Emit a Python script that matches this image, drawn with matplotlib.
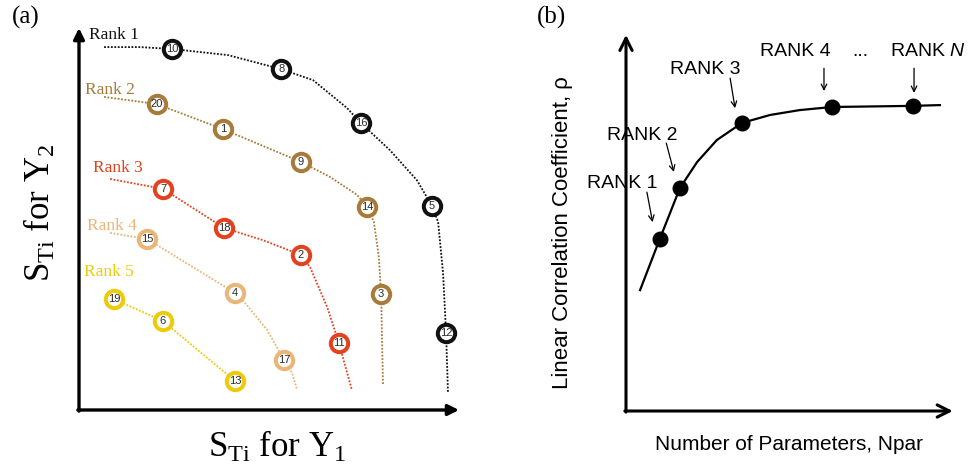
import matplotlib
matplotlib.use("Agg")
import matplotlib.pyplot as plt

plt.rcParams["mathtext.fontset"] = "custom"
plt.rcParams["mathtext.rm"] = "Liberation Serif"
plt.rcParams["mathtext.it"] = "Liberation Sans:italic"

# ---- panel (a): ranked sensitivity indices, S_Ti for Y1 / Y2 (0-100 scale)
rank_names = ["Rank 1", "Rank 2", "Rank 3", "Rank 4", "Rank 5"]

rank1_ids = [10, 8, 16, 5, 12]
rank1_x = [24.5, 53.2, 74.2, 92.9, 96.6]
rank1_y = [95.0, 89.7, 75.5, 53.7, 20.3]
rank1_cx = [6.6, 16.1, 24.5, 39.2, 53.2, 61.6, 70.5, 74.2, 81.8, 88.9, 92.9,
            94.5, 95.8, 96.6, 97.1]
rank1_cy = [95.5, 95.5, 95.0, 93.4, 89.7, 86.8, 79.5, 75.5, 68.4, 60.5, 53.7,
            49.5, 36.1, 20.3, 4.5]

rank2_ids = [20, 1, 9, 14, 3]
rank2_x = [20.5, 37.9, 58.4, 75.8, 79.5]
rank2_y = [80.5, 73.9, 65.3, 53.4, 30.5]
rank2_cx = [6.6, 20.5, 37.9, 58.4, 66.1, 73.2, 75.8, 77.6, 78.9, 79.5, 80.0]
rank2_cy = [82.4, 80.5, 73.9, 65.3, 61.3, 56.6, 53.4, 49.5, 40.3, 30.5, 6.6]

rank3_ids = [7, 18, 2, 11]
rank3_x = [22.1, 38.2, 58.4, 68.4]
rank3_y = [58.2, 47.9, 40.8, 17.6]
rank3_cx = [8.2, 22.1, 38.2, 48.4, 58.4, 60.8, 65.3, 68.4, 71.8]
rank3_cy = [60.8, 58.2, 47.9, 44.7, 40.8, 37.6, 27.1, 17.6, 5.3]

rank4_ids = [15, 4, 17]
rank4_x = [17.9, 41.1, 53.9]
rank4_y = [45.0, 30.8, 13.2]
rank4_cx = [8.2, 17.9, 41.1, 44.2, 49.5, 53.9, 56.1, 57.4]
rank4_cy = [46.6, 45.0, 30.8, 27.6, 21.1, 13.2, 9.7, 5.3]

rank5_ids = [19, 6, 13]
rank5_x = [9.2, 22.1, 41.1]
rank5_y = [29.2, 23.4, 7.6]
rank5_cx = [9.2, 22.1, 41.1]
rank5_cy = [29.2, 23.4, 7.6]

# ---- panel (b): correlation coefficient vs number of parameters
curve_x = [3.7, 8.9, 14.2, 18.7, 23.9, 30.5, 37.9, 45.8, 54.2, 75.5, 82.6]
curve_y = [31.8, 45.3, 58.7, 65.5, 71.3, 75.8, 77.9, 79.2, 80.0, 80.3, 80.5]
level_x = [8.9, 14.2, 30.5, 54.2, 75.5]
level_y = [45.3, 58.7, 75.8, 80.0, 80.3]
level_labels = ["RANK 1", "RANK 2", "RANK 3", "RANK 4", r"RANK $\mathit{N}$"]

# layout / style
colors = ["#111111", "#A87B3A", "#E2421E", "#EBB577", "#EECB0A"]
name_pos = [(2.6, 98.7), (1.6, 84.2), (3.7, 63.7), (2.1, 48.4), (1.3, 36.3)]
text_pos = [(-1.0, 60.0), (4.2, 72.6), (20.8, 90.0), (44.5, 94.5), (79.5, 94.5)]
arrow_from = [(5.5, 57.6), (10.6, 70.5), (27.4, 87.6), (52.1, 90.2), (75.8, 90.2)]
arrow_to = [(7.0, 49.7), (12.6, 62.9), (28.7, 79.7), (52.1, 84.2), (75.8, 83.7)]

serif = "Liberation Serif"
sans = "Liberation Sans"

fig = plt.figure(figsize=(9.68, 4.68), dpi=100)

# ---------------- panel (a)
ax = fig.add_axes([79 / 968, 58 / 468, 380 / 968, 380 / 468])
ax.set_xlim(0, 100)
ax.set_ylim(0, 100)
ax.axis("off")

arrow_kw = dict(arrowstyle="-|>", lw=2.4, color="black", mutation_scale=16,
                shrinkA=0, shrinkB=0)
ax.annotate("", xy=(0, 100.5), xytext=(0, -0.3), arrowprops=arrow_kw,
            annotation_clip=False)
ax.annotate("", xy=(100, 0), xytext=(-0.3, 0), arrowprops=arrow_kw,
            annotation_clip=False)

ranks = [
    (rank1_ids, rank1_x, rank1_y, rank1_cx, rank1_cy),
    (rank2_ids, rank2_x, rank2_y, rank2_cx, rank2_cy),
    (rank3_ids, rank3_x, rank3_y, rank3_cx, rank3_cy),
    (rank4_ids, rank4_x, rank4_y, rank4_cx, rank4_cy),
    (rank5_ids, rank5_x, rank5_y, rank5_cx, rank5_cy),
]

for i, (ids, xs, ys, cx, cy) in enumerate(ranks):
    c = colors[i]
    ax.plot(cx, cy, color=c, lw=1.3, ls=(0, (1, 0.9)), clip_on=False,
            zorder=2, solid_joinstyle="round")
    ax.plot(xs, ys, "o", ms=12.5, mew=2.9, mfc="white", mec=c,
            clip_on=False, zorder=3)
    for n, x, y in zip(ids, xs, ys):
        ax.text(x, y, str(n), ha="center", va="center", fontsize=8,
                family=sans, color="#2a2a2a", zorder=4)
    ax.text(name_pos[i][0], name_pos[i][1], rank_names[i], ha="left",
            va="center", fontsize=12.5, family=serif, color=c)

ax.text(52, -9.5, r"S$_{\mathrm{Ti}}$ for Y$_{\mathrm{1}}$", ha="center",
        va="center", fontsize=25, family=serif)
ax.text(-10.5, 52, r"S$_{\mathrm{Ti}}$ for Y$_{\mathrm{2}}$", ha="center",
        va="center", fontsize=25, family=serif, rotation=90)

fig.text(26 / 968, 1 - 17 / 468, "(a)", ha="center", va="center",
         fontsize=18, family=serif)

# ---------------- panel (b)
bx = fig.add_axes([626 / 968, 57 / 468, 330 / 968, 380 / 468])
bx.set_xlim(0, 330 / 3.8)
bx.set_ylim(0, 100)
bx.axis("off")

axis_kw = dict(arrowstyle="->", lw=2.2, color="black", mutation_scale=22,
               shrinkA=0, shrinkB=0)
bx.annotate("", xy=(0, 99), xytext=(0, -0.3), arrowprops=axis_kw,
            annotation_clip=False)
bx.annotate("", xy=(86, 0), xytext=(-0.3, 0), arrowprops=axis_kw,
            annotation_clip=False)

bx.plot(curve_x, curve_y, color="black", lw=1.6, clip_on=False,
        solid_joinstyle="round")
bx.plot(level_x, level_y, "o", ms=10.5, color="black", clip_on=False)

for i, lab in enumerate(level_labels):
    bx.text(text_pos[i][0], text_pos[i][1], lab, ha="center", va="center",
            fontsize=14, family=sans)
    bx.annotate("", xy=arrow_to[i], xytext=arrow_from[i],
                arrowprops=dict(arrowstyle="->", lw=0.9, color="black",
                                mutation_scale=10, shrinkA=0, shrinkB=0),
                annotation_clip=False)
bx.text(61.6, 93.4, "...", ha="center", va="baseline", fontsize=14, family=sans)

bx.text(43, -8.9, "Number of Parameters, Npar", ha="center", va="center",
        fontsize=15, family=sans)
bx.text(-16.6, 47, "Linear Correlation Coefficient, \u03c1", ha="center",
        va="center", fontsize=16, family=sans, rotation=90)

fig.text(552 / 968, 1 - 17 / 468, "(b)", ha="center", va="center",
         fontsize=18, family=serif)

fig.savefig("out.png", dpi=100)
